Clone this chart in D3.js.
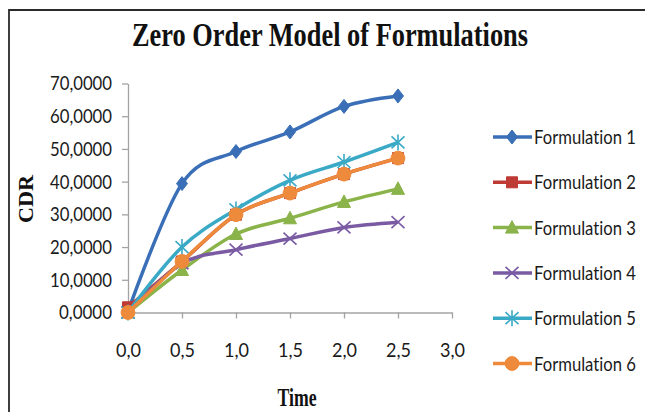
<!DOCTYPE html>
<html>
<head>
<meta charset="utf-8">
<script src="https://cdn.jsdelivr.net/npm/d3@7"></script>
<style>
  body { margin: 0; background: #fff; }
  svg { display: block; }
  svg text { font-variant-ligatures: none; font-feature-settings: "liga" 0, "clig" 0; }
</style>
</head>
<body>
<svg id="chart"></svg>
<script>
// data
const times = [0, 0.5, 1.0, 1.5, 2.0, 2.5];
const formulation1 = [0.3, 39.4, 49.2, 55.2, 63.0, 66.2];
const formulation2 = [1.6, 15.6, 29.9, 36.5, 42.3, 47.2];
const formulation3 = [0.0, 13.0, 24.0, 28.8, 33.8, 37.8];
const formulation4 = [0.0, 15.0, 19.2, 22.6, 26.0, 27.6];
const formulation5 = [0.0, 20.0, 31.5, 40.4, 46.0, 52.0];
const formulation6 = [0.0, 15.6, 29.9, 36.5, 42.3, 47.2];
const seriesNames = ['Formulation 1', 'Formulation 2', 'Formulation 3', 'Formulation 4', 'Formulation 5', 'Formulation 6'];
const yTicks = [0, 10, 20, 30, 40, 50, 60, 70];
const yTickLabels = ['0,0000', '10,0000', '20,0000', '30,0000', '40,0000', '50,0000', '60,0000', '70,0000'];
const xTicks = [0, 0.5, 1.0, 1.5, 2.0, 2.5, 3.0];
const xTickLabels = ['0,0', '0,5', '1,0', '1,5', '2,0', '2,5', '3,0'];

const width = 645;
const height = 412;
const colors = ['#3a6fb7', '#be3a34', '#8ab34a', '#7a5ba3', '#3aa9c6', '#ee8a3b'];
const markers = ['diamond', 'square', 'triangle', 'cross', 'star', 'circle'];
const allValues = [formulation1, formulation2, formulation3, formulation4, formulation5, formulation6];

const series = seriesNames.map((name, i) => ({
    name: name,
    color: colors[i],
    marker: markers[i],
    points: times.map((t, j) => ({ t: t, v: allValues[i][j] }))
}));

const svg = d3.select('#chart')
    .attr('width', width)
    .attr('height', height);

// frame (only left and top edges show)
svg.append('path')
    .attr('d', `M9,${height} V10 H${width}`)
    .attr('fill', 'none')
    .attr('stroke', '#2b2b2b')
    .attr('stroke-width', 1.8);

const x = d3.scaleLinear().domain([0, 3]).range([128, 452]);
const y = d3.scaleLinear().domain([0, 70]).range([312.5, 83.5]);

// title
svg.append('text')
    .attr('x', 330)
    .attr('y', 46)
    .attr('text-anchor', 'middle')
    .attr('font-family', 'Liberation Serif, serif')
    .attr('font-weight', 'bold')
    .attr('font-size', 33)
    .attr('textLength', 396)
    .attr('lengthAdjust', 'spacingAndGlyphs')
    .attr('fill', '#111')
    .text('Zero Order Model of Formulations');

// axes
const yAxis = svg.append('g')
    .attr('transform', `translate(${x(0)},0)`)
    .call(d3.axisLeft(y).tickValues(yTicks).tickFormat((d, i) => yTickLabels[i]).tickSize(6).tickSizeOuter(0).tickPadding(10));

const xAxis = svg.append('g')
    .attr('transform', `translate(0,${y(0)})`)
    .call(d3.axisBottom(x).tickValues(xTicks).tickFormat((d, i) => xTickLabels[i]).tickSize(6).tickSizeOuter(0).tickPadding(24));

[yAxis, xAxis].forEach(ax => {
    ax.select('.domain').attr('stroke', '#a3a3a3').attr('stroke-width', 1.3);
    ax.selectAll('.tick line').attr('stroke', '#a3a3a3').attr('stroke-width', 1.3);
    ax.selectAll('.tick text')
        .attr('font-family', 'Lato, sans-serif')
        .attr('font-size', 20)
        .attr('fill', '#1a1a1a')
        .attr('lengthAdjust', 'spacingAndGlyphs');
});
yAxis.selectAll('.tick text').attr('textLength', d => d >= 10 ? 62 : 53);
xAxis.selectAll('.tick text').attr('textLength', 25);

// axis titles
svg.append('text')
    .attr('transform', 'translate(33,199) rotate(-90)')
    .attr('text-anchor', 'middle')
    .attr('font-family', 'Liberation Serif, serif')
    .attr('font-weight', 'bold')
    .attr('font-size', 20)
    .attr('textLength', 48)
    .attr('lengthAdjust', 'spacingAndGlyphs')
    .attr('fill', '#111')
    .text('CDR');

svg.append('text')
    .attr('x', 297)
    .attr('y', 406)
    .attr('text-anchor', 'middle')
    .attr('font-family', 'Liberation Serif, serif')
    .attr('font-weight', 'bold')
    .attr('font-size', 25)
    .attr('textLength', 39)
    .attr('lengthAdjust', 'spacingAndGlyphs')
    .attr('fill', '#111')
    .text('Time');

// marker shapes
function markerPath(type) {
    if (type === 'diamond') return 'M0,-7L5.5,0L0,7L-5.5,0Z';
    if (type === 'square') return 'M-5.5,-5.5H5.5V5.5H-5.5Z';
    if (type === 'triangle') return 'M0,-7L6.5,5.5H-6.5Z';
    if (type === 'cross') return 'M-6.5,-6L6.5,6M-6.5,6L6.5,-6';
    if (type === 'star') return 'M-6.5,-6L6.5,6M-6.5,6L6.5,-6M0,-8V8';
    return d3.symbol(d3.symbolCircle, 150)();
}

function drawMarker(g, s) {
    const stroked = s.marker === 'cross' || s.marker === 'star';
    g.append('path')
        .attr('d', markerPath(s.marker))
        .attr('fill', stroked ? 'none' : s.color)
        .attr('stroke', s.color)
        .attr('stroke-width', stroked ? 1.6 : 1);
}

const line = d3.line()
    .x(p => x(p.t))
    .y(p => y(p.v))
    .curve(d3.curveCardinal.tension(0));

// series in drawing order, later ones on top
series.forEach(s => {
    const g = svg.append('g');
    g.append('path')
        .datum(s.points)
        .attr('d', line)
        .attr('fill', 'none')
        .attr('stroke', s.color)
        .attr('stroke-width', 3.5)
        .attr('stroke-linejoin', 'round');
    g.selectAll('g.pt')
        .data(s.points)
        .enter().append('g')
        .attr('class', 'pt')
        .attr('transform', p => `translate(${x(p.t)},${y(p.v)})`)
        .each(function () { drawMarker(d3.select(this), s); });
});

// legend
const legend = svg.append('g');
series.forEach((s, i) => {
    const cy = 137 + i * 45.3;
    const item = legend.append('g').attr('transform', `translate(0,${cy})`);
    item.append('line')
        .attr('x1', 493).attr('x2', 532)
        .attr('y1', 0).attr('y2', 0)
        .attr('stroke', s.color)
        .attr('stroke-width', 3.5);
    drawMarker(item.append('g').attr('transform', 'translate(512,0)'), s);
    // narrow the label with a horizontal scale so its box stays inside the page
    const label = item.append('text')
        .attr('font-family', 'Lato, sans-serif')
        .attr('font-size', 20)
        .attr('fill', '#1a1a1a')
        .text(s.name);
    const w = label.node().getComputedTextLength();
    label.attr('transform', `translate(534,7) scale(${102 / w},1)`);
});
</script>
</body>
</html>
